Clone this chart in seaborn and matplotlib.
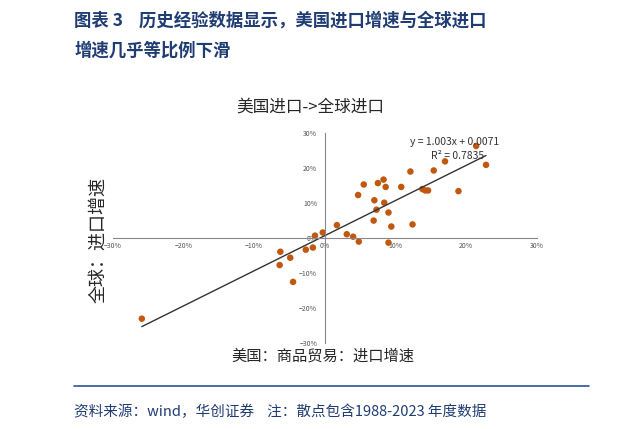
import numpy as np
import matplotlib.pyplot as plt
import seaborn as sns
from matplotlib.ticker import PercentFormatter

sns.set_style("white")
plt.rcParams['font.family'] = ['Noto Sans CJK SC', 'DejaVu Sans']

# US import growth vs global import growth, 1988-2023 (%)
us_import = [-25.9, -6.3, -6.4, -4.9, -4.5, -2.7, -1.7, -1.4, -0.3, 1.7, 3.1, 4.0,
             4.8, 4.7, 5.5, 6.9, 7.0, 7.3, 7.5, 8.3, 8.4, 8.6, 9.0, 9.0, 9.4, 10.8,
             12.1, 12.4, 13.8, 14.2, 14.6, 15.4, 17.0, 18.9, 21.4, 22.8]
world_import = [-23.0, -3.9, -7.7, -5.6, -12.5, -3.3, -2.7, 0.7, 1.6, 3.7, 1.1, 0.4,
                -1.0, 12.3, 15.3, 5.0, 10.8, 8.1, 15.7, 16.7, 10.1, 14.6, 7.3, -1.3, 3.3, 14.6,
                19.0, 3.9, 14.0, 13.6, 13.6, 19.3, 21.9, 13.4, 26.3, 20.9]
slope, intercept = 1.003, 0.71

fig = plt.figure(figsize=(6.2, 4.29), dpi=100)
fig.text(0.12, 0.94, "图表 3    历史经验数据显示，美国进口增速与全球进口", color="#1f3c73",
         fontsize=12.5, fontweight="bold")
fig.text(0.12, 0.87, "增速几乎等比例下滑", color="#1f3c73", fontsize=12.5, fontweight="bold")
fig.text(0.12, 0.03, "资料来源：wind，华创证券    注：散点包含1988-2023 年度数据",
         color="#1f3c73", fontsize=10.5, style="italic")
fig.add_artist(plt.Line2D([0.12, 0.95], [0.10, 0.10], color="#2e5597", lw=1.2))
fig.text(0.5, 0.74, "美国进口->全球进口", ha="center", fontsize=12)
fig.text(0.158, 0.44, "全球：进口增速", rotation=90, ha="center", va="center", fontsize=13)
fig.text(0.52, 0.16, "美国：商品贸易：进口增速", ha="center", fontsize=11)

ax = fig.add_axes([0.182, 0.200, 0.684, 0.49])
sns.scatterplot(x=us_import, y=world_import, ax=ax, color="#c0580f", s=22, edgecolor="none")
xs = np.array([min(us_import), max(us_import)])
sns.lineplot(x=xs, y=slope * xs + intercept, ax=ax, color="#333333", lw=1)
ax.set_xlim(-30, 30)
ax.set_ylim(-30, 30)
ax.set_xticks(range(-30, 31, 10))
ax.set_yticks(range(-30, 31, 10))
ax.xaxis.set_major_formatter(PercentFormatter(decimals=0))
ax.yaxis.set_major_formatter(PercentFormatter(decimals=0))
for s in ["top", "right"]:
    ax.spines[s].set_visible(False)
ax.spines["left"].set_position(("data", 0))
ax.spines["bottom"].set_position(("data", 0))
for s in ["left", "bottom"]:
    ax.spines[s].set_color("#888888")
ax.tick_params(labelsize=5, colors="#555555", length=2, direction="out")
ax.tick_params(axis="x", pad=1)
ax.text(12, 26.5, "y = 1.003x + 0.0071", fontsize=7.5, color="#333333")
ax.text(15, 22.5, "R² = 0.7835", fontsize=7.5, color="#333333")
fig.savefig("out.png")
